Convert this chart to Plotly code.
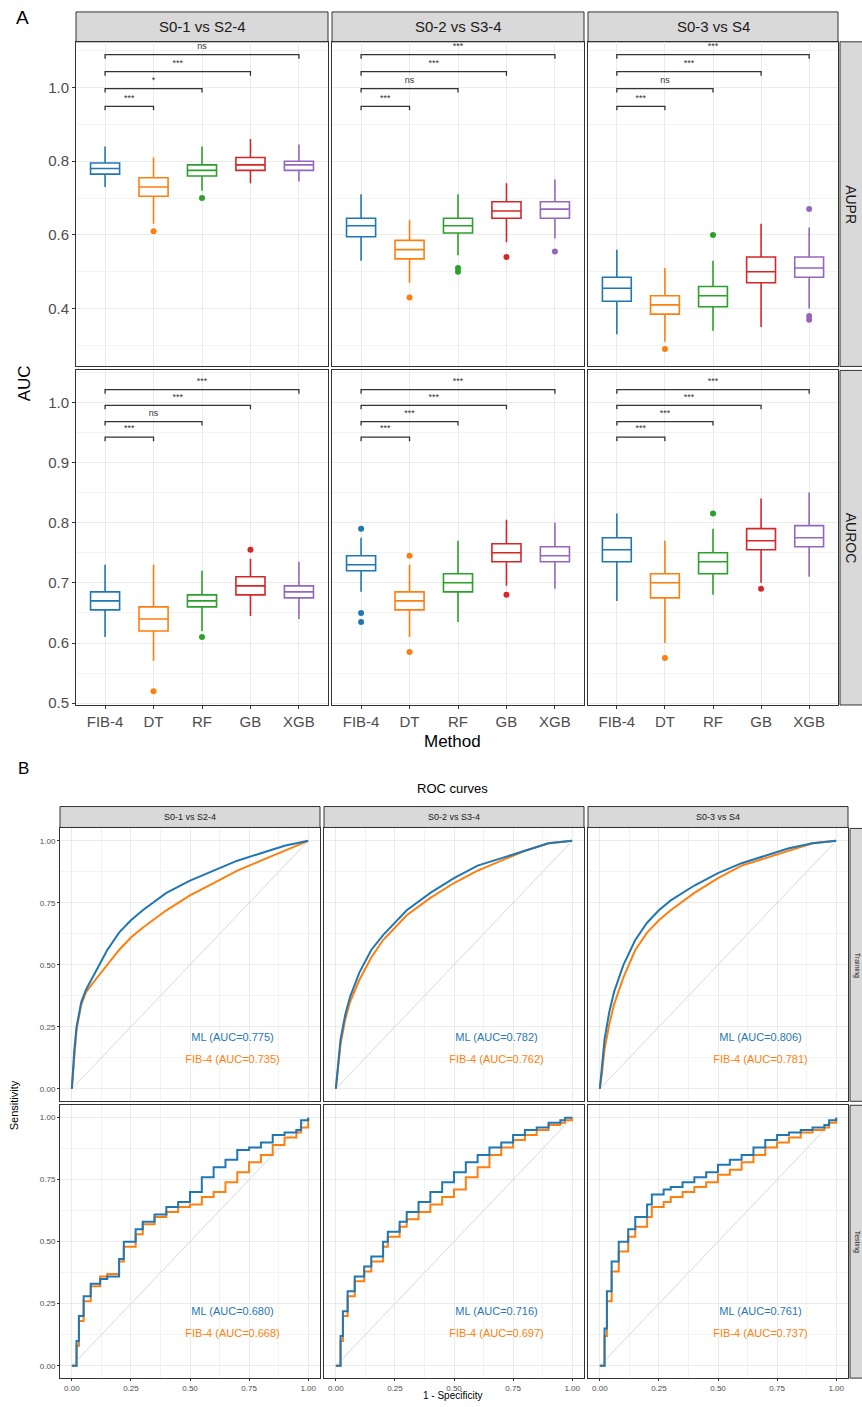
import plotly.graph_objects as go

W, H = 862, 1407
def px(x): return x / W
def py(y): return 1 - y / H

methods = ["FIB-4", "DT", "RF", "GB", "XGB"]
colors = ["#1f77b4", "#ff7f0e", "#2ca02c", "#d62728", "#9467bd"]
comparisons = ["S0-1 vs S2-4", "S0-2 vs S3-4", "S0-3 vs S4"]
metrics = ["AUPR", "AUROC"]

# ---------------- Panel A box statistics (per method: FIB-4, DT, RF, GB, XGB) -------------
# AUPR
aupr_s01_q1 = [0.765, 0.705, 0.760, 0.775, 0.775]
aupr_s01_med = [0.780, 0.730, 0.775, 0.790, 0.790]
aupr_s01_q3 = [0.795, 0.755, 0.790, 0.810, 0.800]
aupr_s01_lo = [0.730, 0.630, 0.720, 0.740, 0.745]
aupr_s01_hi = [0.840, 0.810, 0.840, 0.860, 0.845]
aupr_s01_out = [[], [0.610], [0.700], [], []]

aupr_s02_q1 = [0.595, 0.535, 0.605, 0.645, 0.645]
aupr_s02_med = [0.625, 0.560, 0.625, 0.665, 0.670]
aupr_s02_q3 = [0.645, 0.585, 0.645, 0.690, 0.690]
aupr_s02_lo = [0.530, 0.470, 0.545, 0.580, 0.590]
aupr_s02_hi = [0.710, 0.640, 0.710, 0.740, 0.750]
aupr_s02_out = [[], [0.430], [0.510, 0.500], [0.540], [0.555]]

aupr_s03_q1 = [0.420, 0.385, 0.405, 0.470, 0.485]
aupr_s03_med = [0.455, 0.410, 0.435, 0.500, 0.510]
aupr_s03_q3 = [0.485, 0.435, 0.460, 0.540, 0.540]
aupr_s03_lo = [0.330, 0.310, 0.340, 0.350, 0.400]
aupr_s03_hi = [0.560, 0.510, 0.530, 0.630, 0.620]
aupr_s03_out = [[], [0.290], [0.600], [], [0.670, 0.380, 0.370]]

# AUROC
auroc_s01_q1 = [0.655, 0.620, 0.660, 0.680, 0.675]
auroc_s01_med = [0.670, 0.640, 0.670, 0.695, 0.685]
auroc_s01_q3 = [0.685, 0.660, 0.680, 0.710, 0.695]
auroc_s01_lo = [0.610, 0.570, 0.620, 0.645, 0.640]
auroc_s01_hi = [0.730, 0.730, 0.720, 0.740, 0.735]
auroc_s01_out = [[], [0.520], [0.610], [0.755], []]

auroc_s02_q1 = [0.720, 0.655, 0.685, 0.735, 0.735]
auroc_s02_med = [0.730, 0.670, 0.700, 0.750, 0.745]
auroc_s02_q3 = [0.745, 0.685, 0.715, 0.765, 0.760]
auroc_s02_lo = [0.685, 0.610, 0.635, 0.695, 0.690]
auroc_s02_hi = [0.775, 0.730, 0.770, 0.805, 0.800]
auroc_s02_out = [[0.790, 0.650, 0.635], [0.745, 0.585], [], [0.680], []]

auroc_s03_q1 = [0.735, 0.675, 0.715, 0.755, 0.760]
auroc_s03_med = [0.755, 0.700, 0.735, 0.770, 0.775]
auroc_s03_q3 = [0.775, 0.715, 0.750, 0.790, 0.795]
auroc_s03_lo = [0.670, 0.600, 0.680, 0.700, 0.710]
auroc_s03_hi = [0.815, 0.770, 0.790, 0.840, 0.850]
auroc_s03_out = [[], [0.575], [0.815], [0.690], []]

# significance labels: FIB-4 vs DT, RF, GB, XGB
sig_aupr = [["***", "*", "***", "ns"], ["***", "ns", "***", "***"], ["***", "ns", "***", "***"]]
sig_auroc = [["***", "ns", "***", "***"], ["***", "***", "***", "***"], ["***", "***", "***", "***"]]
sig_y_aupr = [0.949, 0.997, 1.043, 1.089]
sig_y_auroc = [0.942, 0.968, 0.995, 1.021]

# ---------------- Panel B ROC curves -----------------
cohorts = ["Training", "Testing"]
tr_fpr = [0, 0.005, 0.01, 0.02, 0.04, 0.06, 0.10, 0.15, 0.20, 0.25, 0.30, 0.40, 0.50, 0.60, 0.70, 0.80, 0.90, 1.0]
tr_s01_ml = [0, 0.08, 0.15, 0.25, 0.35, 0.40, 0.47, 0.56, 0.63, 0.68, 0.72, 0.79, 0.84, 0.88, 0.92, 0.95, 0.98, 1.0]
tr_s01_fib = [0, 0.07, 0.14, 0.24, 0.34, 0.39, 0.44, 0.50, 0.56, 0.61, 0.65, 0.72, 0.78, 0.83, 0.88, 0.92, 0.96, 1.0]
tr_s02_ml = [0, 0.05, 0.10, 0.20, 0.30, 0.37, 0.47, 0.56, 0.62, 0.67, 0.72, 0.79, 0.85, 0.90, 0.93, 0.96, 0.99, 1.0]
tr_s02_fib = [0, 0.04, 0.09, 0.18, 0.28, 0.35, 0.44, 0.53, 0.60, 0.65, 0.70, 0.77, 0.83, 0.88, 0.92, 0.96, 0.99, 1.0]
tr_s03_ml = [0, 0.05, 0.10, 0.20, 0.31, 0.39, 0.50, 0.60, 0.67, 0.72, 0.76, 0.82, 0.87, 0.91, 0.94, 0.97, 0.99, 1.0]
tr_s03_fib = [0, 0.03, 0.07, 0.16, 0.26, 0.34, 0.45, 0.56, 0.63, 0.68, 0.72, 0.79, 0.85, 0.90, 0.93, 0.96, 0.99, 1.0]

te_fpr = [0, 0.02, 0.03, 0.05, 0.08, 0.12, 0.15, 0.20, 0.22, 0.27, 0.30, 0.35, 0.40, 0.45, 0.50,
          0.55, 0.60, 0.65, 0.70, 0.75, 0.80, 0.85, 0.90, 0.95, 0.97, 1.0]
te_s01_ml = [0, 0.10, 0.20, 0.28, 0.33, 0.35, 0.36, 0.43, 0.50, 0.55, 0.58, 0.61, 0.64, 0.66, 0.70,
             0.76, 0.80, 0.83, 0.87, 0.88, 0.90, 0.93, 0.94, 0.95, 0.99, 1.0]
te_s01_fib = [0, 0.08, 0.18, 0.26, 0.32, 0.36, 0.37, 0.42, 0.48, 0.53, 0.57, 0.60, 0.62, 0.64, 0.65,
              0.68, 0.70, 0.74, 0.78, 0.82, 0.85, 0.89, 0.92, 0.94, 0.96, 1.0]
te_s02_ml = [0, 0.12, 0.22, 0.30, 0.36, 0.40, 0.44, 0.50, 0.54, 0.58, 0.62, 0.66, 0.70, 0.74, 0.78,
             0.82, 0.85, 0.88, 0.90, 0.93, 0.95, 0.96, 0.98, 0.99, 1.0, 1.0]
te_s02_fib = [0, 0.10, 0.20, 0.28, 0.34, 0.38, 0.42, 0.48, 0.52, 0.56, 0.59, 0.62, 0.65, 0.68, 0.71,
              0.76, 0.80, 0.85, 0.88, 0.91, 0.93, 0.95, 0.97, 0.98, 0.99, 1.0]
te_s03_ml = [0, 0.15, 0.30, 0.42, 0.50, 0.55, 0.60, 0.65, 0.69, 0.71, 0.72, 0.74, 0.76, 0.78, 0.81,
             0.83, 0.85, 0.88, 0.91, 0.93, 0.94, 0.95, 0.96, 0.97, 0.99, 1.0]
te_s03_fib = [0, 0.12, 0.26, 0.38, 0.46, 0.52, 0.56, 0.60, 0.64, 0.66, 0.68, 0.70, 0.72, 0.74, 0.77,
              0.79, 0.82, 0.85, 0.88, 0.90, 0.92, 0.94, 0.95, 0.96, 0.98, 1.0]

auc_train_ml = [0.775, 0.782, 0.806]
auc_train_fib = [0.735, 0.762, 0.781]
auc_test_ml = [0.680, 0.716, 0.761]
auc_test_fib = [0.668, 0.697, 0.737]

roc_blue = "#1f77b4"
roc_orange = "#ff7f0e"

FONT = "Liberation Sans, Arial, sans-serif"
fig = go.Figure()
layout = {}
shapes = []
annotations = []

def note(text, x, y, size, color="black", angle=0, xanchor="center"):
    annotations.append(dict(text=text, x=px(x), y=py(y), xref="paper", yref="paper",
                            showarrow=False, xanchor=xanchor, yanchor="middle", textangle=angle,
                            font=dict(size=size, color=color, family=FONT)))

# ---------------- Panel A layout geometry (window pixels) ---------------
A_cols = [(76, 328), (332, 584), (588, 838)]
A_rows = [(42, 368), (372, 708)]
A_strip_top = (12, 42)
A_strip_right = (840, 870)
A_yrange = [[0.243, 1.124], [0.497, 1.053]]

box_sets = [
    [(aupr_s01_q1, aupr_s01_med, aupr_s01_q3, aupr_s01_lo, aupr_s01_hi, aupr_s01_out),
     (aupr_s02_q1, aupr_s02_med, aupr_s02_q3, aupr_s02_lo, aupr_s02_hi, aupr_s02_out),
     (aupr_s03_q1, aupr_s03_med, aupr_s03_q3, aupr_s03_lo, aupr_s03_hi, aupr_s03_out)],
    [(auroc_s01_q1, auroc_s01_med, auroc_s01_q3, auroc_s01_lo, auroc_s01_hi, auroc_s01_out),
     (auroc_s02_q1, auroc_s02_med, auroc_s02_q3, auroc_s02_lo, auroc_s02_hi, auroc_s02_out),
     (auroc_s03_q1, auroc_s03_med, auroc_s03_q3, auroc_s03_lo, auroc_s03_hi, auroc_s03_out)],
]
sig_sets = [sig_aupr, sig_auroc]
sig_ys = [sig_y_aupr, sig_y_auroc]

GRID = "#ebebeb"
BORDER = "#333333"
STRIP = "#d9d9d9"

ax = 0
for r in range(2):
    for c in range(3):
        ax += 1
        xa, ya = f"x{ax}", f"y{ax}"
        x0, x1 = A_cols[c]
        y0, y1 = A_rows[r]
        q1, med, q3, lo, hi, outs = box_sets[r][c]
        for i, m in enumerate(methods):
            fig.add_trace(go.Box(
                x=[i], q1=[q1[i]], median=[med[i]], q3=[q3[i]],
                lowerfence=[lo[i]], upperfence=[hi[i]],
                width=0.6, whiskerwidth=0, boxpoints=False,
                fillcolor="white", line=dict(color=colors[i], width=1.6),
                xaxis=xa, yaxis=ya, showlegend=False, hoverinfo="skip"))
            if outs[i]:
                fig.add_trace(go.Scatter(
                    x=[i] * len(outs[i]), y=outs[i], mode="markers",
                    marker=dict(color=colors[i], size=6),
                    xaxis=xa, yaxis=ya, showlegend=False, hoverinfo="skip"))
        # significance bars
        yr = A_yrange[r]
        tip = (yr[1] - yr[0]) * 4 / (y1 - y0)
        toff = (yr[1] - yr[0]) * 8 / (y1 - y0)
        for k in range(4):
            yb = sig_ys[r][k]
            fig.add_trace(go.Scatter(
                x=[0, 0, k + 1, k + 1], y=[yb - tip, yb, yb, yb - tip], mode="lines",
                line=dict(color="#333333", width=1.3),
                xaxis=xa, yaxis=ya, showlegend=False, hoverinfo="skip"))
            fig.add_trace(go.Scatter(
                x=[(k + 1) / 2], y=[yb + toff], mode="text", text=[sig_sets[r][c][k]],
                textfont=dict(size=9, color="#333333", family=FONT),
                xaxis=xa, yaxis=ya, showlegend=False, hoverinfo="skip"))
        if r == 0:
            ymaj = dict(tickvals=[0.4, 0.6, 0.8, 1.0], ticktext=["0.4", "0.6", "0.8", "1.0"])
            yminor = dict(tickvals=[0.3, 0.5, 0.7, 0.9, 1.1], showgrid=True, gridcolor="#f3f3f3", gridwidth=0.6, ticklen=0)
        else:
            ymaj = dict(tickvals=[0.5, 0.6, 0.7, 0.8, 0.9, 1.0], ticktext=["0.5", "0.6", "0.7", "0.8", "0.9", "1.0"])
            yminor = dict(tickvals=[0.55, 0.65, 0.75, 0.85, 0.95, 1.05], showgrid=True, gridcolor="#f3f3f3", gridwidth=0.6, ticklen=0)
        key = "" if ax == 1 else str(ax)
        layout["xaxis" + key] = dict(
            domain=[px(x0), px(x1)], anchor=ya, range=[-0.6, 4.6],
            tickvals=list(range(5)), ticktext=methods, showticklabels=(r == 1),
            ticks="outside" if r == 1 else "", ticklen=3, tickcolor=BORDER,
            tickfont=dict(size=15, color="#4d4d4d", family=FONT),
            showgrid=True, gridcolor=GRID, gridwidth=1, zeroline=False,
            showline=True, linecolor=BORDER, linewidth=1, mirror=True)
        layout["yaxis" + key] = dict(
            domain=[py(y1), py(y0)], anchor=xa, range=yr, **ymaj,
            showticklabels=(c == 0), ticks="outside" if c == 0 else "", ticklen=3, tickcolor=BORDER,
            tickfont=dict(size=15, color="#4d4d4d", family=FONT),
            showgrid=True, gridcolor=GRID, gridwidth=1, zeroline=False, minor=yminor,
            showline=True, linecolor=BORDER, linewidth=1, mirror=True)

# A strips
for c in range(3):
    x0, x1 = A_cols[c]
    shapes.append(dict(type="rect", xref="paper", yref="paper", x0=px(x0), x1=px(x1),
                       y0=py(A_strip_top[1]), y1=py(A_strip_top[0]),
                       fillcolor=STRIP, line=dict(color=BORDER, width=1), layer="below"))
    note(comparisons[c], (x0 + x1) / 2, (A_strip_top[0] + A_strip_top[1]) / 2, 15, "#1a1a1a")
for r in range(2):
    y0, y1 = A_rows[r]
    shapes.append(dict(type="rect", xref="paper", yref="paper", x0=px(A_strip_right[0]), x1=px(A_strip_right[1]),
                       y0=py(y1), y1=py(y0), fillcolor=STRIP, line=dict(color=BORDER, width=1), layer="below"))
    note(metrics[r], A_strip_right[0] + 11, (y0 + y1) / 2, 14, "#1a1a1a", angle=90)

note("A", 14, 18, 19, xanchor="left")
note("AUC", 24, 385, 17, angle=-90)
note("Method", 452, 745, 17)

# ---------------- Panel B ----------------
B_cols = [(60, 320), (324, 584), (588, 848)]
B_rows = [(832, 1106), (1110, 1384)]
B_strip_top = (810, 831)
B_strip_right = (850, 872)
leg_y_ml = [0.205, 0.215]
leg_y_fib = [0.115, 0.125]

roc_sets = [
    [(tr_fpr, tr_s01_ml, tr_s01_fib), (tr_fpr, tr_s02_ml, tr_s02_fib), (tr_fpr, tr_s03_ml, tr_s03_fib)],
    [(te_fpr, te_s01_ml, te_s01_fib), (te_fpr, te_s02_ml, te_s02_fib), (te_fpr, te_s03_ml, te_s03_fib)],
]
auc_ml = [auc_train_ml, auc_test_ml]
auc_fib = [auc_train_fib, auc_test_fib]
roc_ticks = [0, 0.25, 0.5, 0.75, 1.0]
roc_ticktext = ["0.00", "0.25", "0.50", "0.75", "1.00"]

for r in range(2):
    for c in range(3):
        ax += 1
        xa, ya = f"x{ax}", f"y{ax}"
        x0, x1 = B_cols[c]
        y0, y1 = B_rows[r]
        fpr, ml, fib = roc_sets[r][c]
        shape = "linear" if r == 0 else "hv"
        fig.add_trace(go.Scatter(x=[0, 1], y=[0, 1], mode="lines", line=dict(color="#d9d9d9", width=1),
                                 xaxis=xa, yaxis=ya, showlegend=False, hoverinfo="skip"))
        fig.add_trace(go.Scatter(x=fpr, y=fib, mode="lines", line=dict(color=roc_orange, width=2, shape=shape),
                                 xaxis=xa, yaxis=ya, showlegend=False, hoverinfo="skip"))
        fig.add_trace(go.Scatter(x=fpr, y=ml, mode="lines", line=dict(color=roc_blue, width=2, shape=shape),
                                 xaxis=xa, yaxis=ya, showlegend=False, hoverinfo="skip"))
        fig.add_trace(go.Scatter(x=[0.68], y=[leg_y_ml[r]], mode="text",
                                 text=[f"ML (AUC={auc_ml[r][c]:.3f})"],
                                 textfont=dict(size=11, color=roc_blue, family=FONT),
                                 xaxis=xa, yaxis=ya, showlegend=False, hoverinfo="skip"))
        fig.add_trace(go.Scatter(x=[0.68], y=[leg_y_fib[r]], mode="text",
                                 text=[f"FIB-4 (AUC={auc_fib[r][c]:.3f})"],
                                 textfont=dict(size=11, color=roc_orange, family=FONT),
                                 xaxis=xa, yaxis=ya, showlegend=False, hoverinfo="skip"))
        layout["xaxis" + str(ax)] = dict(
            domain=[px(x0), px(x1)], anchor=ya, range=[-0.05, 1.05],
            tickvals=roc_ticks, ticktext=roc_ticktext, showticklabels=(r == 1),
            ticks="outside" if r == 1 else "", ticklen=2, tickcolor=BORDER,
            tickfont=dict(size=8, color="#4d4d4d", family=FONT),
            showgrid=True, gridcolor=GRID, zeroline=False,
            minor=dict(tickvals=[0.125, 0.375, 0.625, 0.875], showgrid=True, gridcolor="#f3f3f3", ticklen=0),
            showline=True, linecolor=BORDER, linewidth=1, mirror=True)
        layout["yaxis" + str(ax)] = dict(
            domain=[py(y1), py(y0)], anchor=xa, range=[-0.05, 1.05],
            tickvals=roc_ticks, ticktext=roc_ticktext, showticklabels=(c == 0),
            ticks="outside" if c == 0 else "", ticklen=2, tickcolor=BORDER,
            tickfont=dict(size=8, color="#4d4d4d", family=FONT),
            showgrid=True, gridcolor=GRID, zeroline=False,
            minor=dict(tickvals=[0.125, 0.375, 0.625, 0.875], showgrid=True, gridcolor="#f3f3f3", ticklen=0),
            showline=True, linecolor=BORDER, linewidth=1, mirror=True)

for c in range(3):
    x0, x1 = B_cols[c]
    shapes.append(dict(type="rect", xref="paper", yref="paper", x0=px(x0), x1=px(x1),
                       y0=py(B_strip_top[1]), y1=py(B_strip_top[0]),
                       fillcolor=STRIP, line=dict(color=BORDER, width=1), layer="below"))
    note(comparisons[c], (x0 + x1) / 2, (B_strip_top[0] + B_strip_top[1]) / 2, 9, "#1a1a1a")
for r in range(2):
    y0, y1 = B_rows[r]
    shapes.append(dict(type="rect", xref="paper", yref="paper", x0=px(B_strip_right[0]), x1=px(B_strip_right[1]),
                       y0=py(y1), y1=py(y0), fillcolor=STRIP, line=dict(color=BORDER, width=1), layer="below"))
    note(cohorts[r], B_strip_right[0] + 7, (y0 + y1) / 2, 7, "#1a1a1a", angle=90)

note("B", 16, 772, 17, xanchor="left")
note("ROC curves", 452, 792, 13)
note("Sensitivity", 14, 1110, 11, angle=-90)
note("1 - Specificity", 452, 1401, 10)

fig.update_layout(width=W, height=H, margin=dict(l=0, r=0, t=0, b=0),
                  paper_bgcolor="white", plot_bgcolor="white",
                  shapes=shapes, annotations=annotations, showlegend=False,
                  font=dict(family=FONT), **layout)
fig.write_html(
    "out.html",
    config={"displayModeBar": False},
    post_script=("document.body.style.margin='0px';"
                 "document.body.style.overflow='hidden';"
                 "document.documentElement.style.overflow='hidden';"),
)
